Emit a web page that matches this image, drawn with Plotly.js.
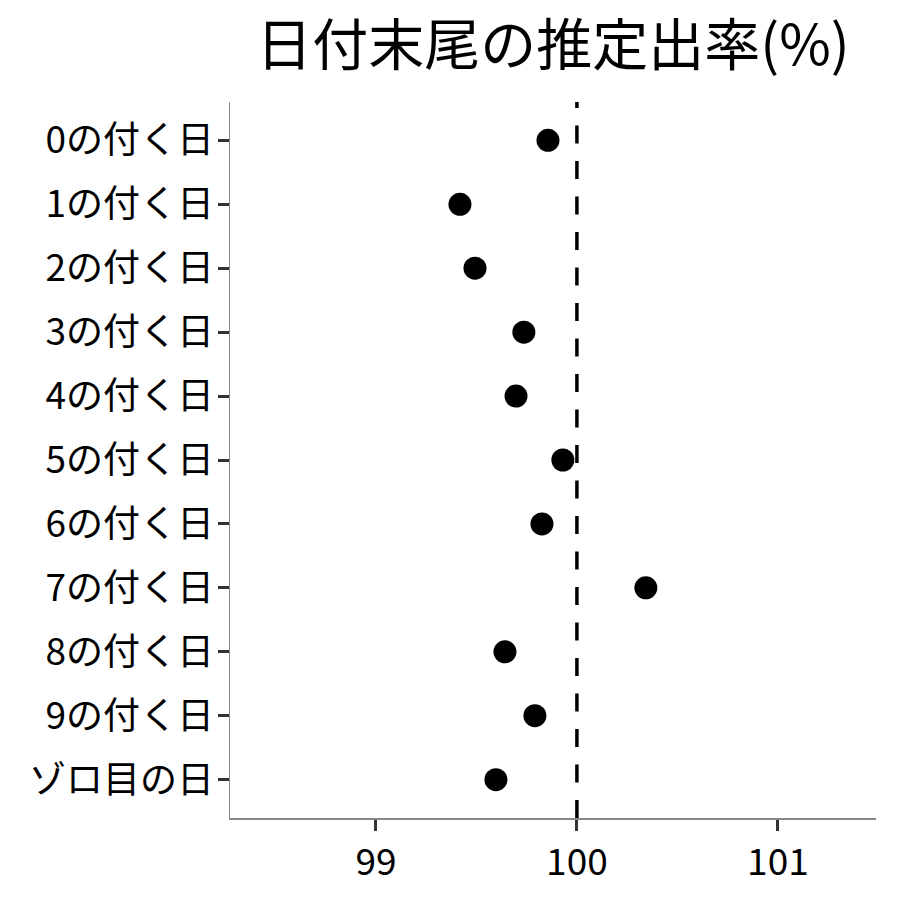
<!DOCTYPE html>
<html>
<head>
<meta charset="utf-8">
<script src="https://cdn.plot.ly/plotly-3.0.1.min.js"></script>
<style>html,body{margin:0;padding:0;background:#fff;}#chart{width:900px;height:900px;}</style>
</head>
<body>
<div id="chart"></div>
<script>
const categories = ["0の付く日","1の付く日","2の付く日","3の付く日","4の付く日","5の付く日","6の付く日","7の付く日","8の付く日","9の付く日","ゾロ目の日"];
const rates = [99.856, 99.418, 99.493, 99.736, 99.697, 99.930, 99.826, 100.343, 99.642, 99.791, 99.597];
const refValue = 100;
const xTicks = [99, 100, 101];
const titleText = "日付末尾の推定出率(%)";

const FONT = '"Noto Sans CJK JP", "Noto Sans", sans-serif';

const trace = {
  type: 'scatter',
  mode: 'markers',
  x: rates,
  y: categories,
  marker: {color: '#000000', size: 23, line: {width: 0}},
  hoverinfo: 'x+y',
  showlegend: false
};

const layout = {
  width: 900, height: 900,
  paper_bgcolor: '#ffffff', plot_bgcolor: '#ffffff',
  margin: {l: 230, r: 24, t: 102, b: 82},
  font: {family: FONT, color: '#000000'},
  title: {
    text: titleText,
    font: {family: FONT, size: 56, color: '#000000'},
    xref: 'paper', x: 0.5, xanchor: 'center',
    yref: 'container', y: 1 - 45/900, yanchor: 'middle'
  },
  xaxis: {
    range: [98.274, 101.488],
    tickvals: xTicks,
    ticktext: xTicks.map(String),
    showgrid: false, zeroline: false,
    showline: true, linecolor: '#888888', linewidth: 1.5,
    ticks: 'outside', ticklen: 11, tickwidth: 3, tickcolor: '#333333',
    tickfont: {family: FONT, size: 37, color: '#000000'},
    fixedrange: true
  },
  yaxis: {
    type: 'category',
    categoryorder: 'array', categoryarray: categories,
    range: [10.6, -0.6],
    showgrid: false, zeroline: false,
    showline: true, linecolor: '#888888', linewidth: 1.5,
    ticks: 'outside', ticklen: 11, tickwidth: 3, tickcolor: '#333333',
    tickfont: {family: FONT, size: 37, color: '#000000'},
    ticklabelstandoff: -4,
    fixedrange: true
  },
  shapes: [{
    type: 'line', xref: 'x', yref: 'paper',
    x0: refValue, x1: refValue, y0: 0, y1: 1,
    line: {color: '#000000', width: 3.5, dash: '18px,17.5px'},
    layer: 'below'
  }]
};

Plotly.newPlot('chart', [trace], layout, {displayModeBar: false, staticPlot: true});
</script>
</body>
</html>
